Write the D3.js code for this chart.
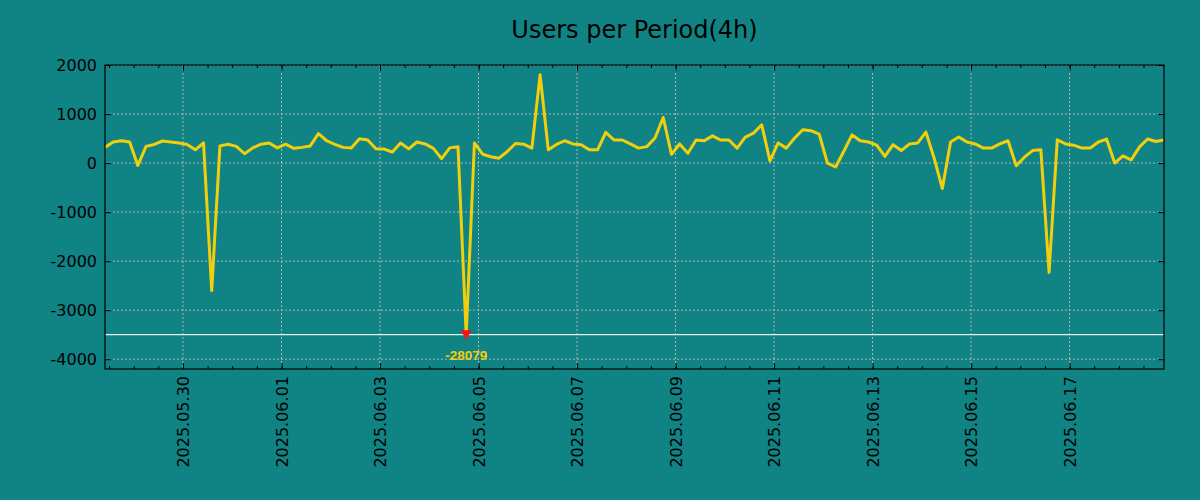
<!DOCTYPE html>
<html>
<head>
<meta charset="utf-8">
<script src="https://cdn.jsdelivr.net/npm/d3@7"></script>
<style>
body { margin: 0; background: #108384; }
</style>
</head>
<body>
<script>
// data: one value every 4 hours
const startTime = "2025.05.28 10:00"
const stepHours = 4
const values = [
  320, 430, 455, 430, -50, 340, 380, 450, 430, 410,
  380, 270, 410, -2600, 350, 385, 340, 190, 310, 385,
  410, 310, 385, 300, 320, 350, 600, 455, 380, 320,
  305, 495, 470, 290, 285, 225, 410, 290, 430, 390,
  300, 90, 310, 335, -28079, 410, 180, 130, 100, 235,
  400, 385, 305, 1800, 270, 380, 455, 390, 375, 270,
  270, 625, 470, 470, 390, 305, 335, 510, 930, 180,
  390, 200, 470, 455, 555, 470, 470, 305, 530, 610,
  780, 45, 410, 305, 510, 680, 660, 590, 0, -80,
  240, 575, 455, 430, 365, 135, 375, 255, 390, 410,
  630, 100, -520, 430, 530, 430, 390, 305, 305, 390,
  455, -55, 120, 255, 270, -2230, 475, 390, 365, 305,
  305, 430, 490, 0, 145, 65, 325, 490, 440, 470
]
const yTicks = [-4000, -3000, -2000, -1000, 0, 1000, 2000]
const xTickLabels = ["2025.05.30", "2025.06.01", "2025.06.03", "2025.06.05", "2025.06.07",
  "2025.06.09", "2025.06.11", "2025.06.13", "2025.06.15", "2025.06.17"]
const yDomain = [-4200, 2000]
const clipValue = -3500   // values below are cut and flagged
const titleText = "Users per Period(4h)"

const w = 1200
const h = 500
const margin = { top: 65, right: 36, bottom: 131, left: 105 }
const iw = w - margin.left - margin.right
const ih = h - margin.top - margin.bottom

const bg = "#108384"
const lineColor = "#f2cf0c"

const parseStart = d3.timeParse("%Y.%m.%d %H:%M")
const parseDay = d3.timeParse("%Y.%m.%d")
const t0 = parseStart(startTime)
const data = values.map((v, i) => ({ date: d3.timeHour.offset(t0, i * stepHours), value: v }))
const majorDates = xTickLabels.map(parseDay)

const x = d3.scaleTime()
  .domain(d3.extent(data, d => d.date))
  .range([0, iw])
const y = d3.scaleLinear()
  .domain(yDomain)
  .range([ih, 0])

const minorDates = d3.timeHour.every(12).range(x.domain()[0], x.domain()[1])

const svg = d3.select("body")
  .append("svg")
  .attr("width", w)
  .attr("height", h)
  .style("font-family", "DejaVu Sans, sans-serif")

svg.append("rect")
  .attr("width", w)
  .attr("height", h)
  .attr("fill", bg)

// title
svg.append("text")
  .attr("x", margin.left + iw / 2)
  .attr("y", 38)
  .attr("text-anchor", "middle")
  .style("font-size", "24px")
  .style("fill", "#000")
  .text(titleText)

const g = svg.append("g")
  .attr("transform", `translate(${margin.left},${margin.top})`)

g.append("clipPath").attr("id", "plot")
  .append("rect").attr("width", iw).attr("height", ih)

// dotted grid
g.selectAll(".gx")
  .data(majorDates)
  .enter()
  .append("line")
  .attr("x1", d => x(d)).attr("x2", d => x(d))
  .attr("y1", 0).attr("y2", ih)
  .attr("stroke", "#b4b4b4")
  .attr("stroke-width", 1)
  .attr("stroke-dasharray", "2,2")
g.selectAll(".gy")
  .data(yTicks)
  .enter()
  .append("line")
  .attr("x1", 0).attr("x2", iw)
  .attr("y1", d => y(d)).attr("y2", d => y(d))
  .attr("stroke", "#b4b4b4")
  .attr("stroke-width", 1)
  .attr("stroke-dasharray", "2,2")

// threshold line
g.append("line")
  .attr("x1", 0).attr("x2", iw)
  .attr("y1", y(clipValue)).attr("y2", y(clipValue))
  .attr("stroke", "#e2f4f2")
  .attr("stroke-width", 1.2)

// the series, clipped at clipValue
const line = d3.line()
  .x(d => x(d.date))
  .y(d => y(Math.max(d.value, clipValue)))

g.append("path")
  .datum(data)
  .attr("clip-path", "url(#plot)")
  .attr("d", line)
  .attr("fill", "none")
  .attr("stroke", lineColor)
  .attr("stroke-width", 3)
  .attr("stroke-linejoin", "round")

const cut = data.filter(d => d.value < clipValue)

g.selectAll(".mark")
  .data(cut)
  .enter()
  .append("path")
  .attr("transform", d => `translate(${x(d.date)},${y(clipValue)})`)
  .attr("d", "M-5.5,-4.5L5.5,-4.5L0,5Z")
  .attr("fill", "#ff1010")

g.selectAll(".cutlabel")
  .data(cut)
  .enter()
  .append("text")
  .attr("x", d => x(d.date))
  .attr("y", y(clipValue) + 25)
  .attr("text-anchor", "middle")
  .style("font-family", "Liberation Sans, sans-serif")
  .style("font-weight", "bold")
  .style("font-size", "13.5px")
  .style("fill", lineColor)
  .text(d => d.value)

// axes, ticks pointing inward
const styleAxis = sel => {
  sel.select(".domain").remove()
  sel.selectAll("line").attr("stroke", "#000")
  sel.selectAll("text").style("font-size", "16px").style("fill", "#000").style("font-family", "DejaVu Sans, sans-serif")
}

g.append("g")
  .call(d3.axisLeft(y).tickValues(yTicks).tickSize(-6).tickPadding(8).tickFormat(d => String(d)))
  .call(styleAxis)
g.append("g")
  .attr("transform", `translate(${iw},0)`)
  .call(d3.axisRight(y).tickValues(yTicks).tickSize(-6).tickFormat(""))
  .call(styleAxis)

g.append("g")
  .attr("transform", `translate(0,${ih})`)
  .call(d3.axisBottom(x).tickValues(minorDates).tickSize(-3).tickFormat(""))
  .call(styleAxis)
g.append("g")
  .call(d3.axisTop(x).tickValues(minorDates).tickSize(-3).tickFormat(""))
  .call(styleAxis)
g.append("g")
  .call(d3.axisTop(x).tickValues(majorDates).tickSize(-6).tickFormat(""))
  .call(styleAxis)

const bottom = g.append("g")
  .attr("transform", `translate(0,${ih})`)
  .call(d3.axisBottom(x).tickValues(majorDates).tickSize(-6).tickFormat(d3.timeFormat("%Y.%m.%d")))
  .call(styleAxis)
bottom.selectAll("text")
  .attr("transform", "rotate(-90)")
  .attr("x", -7)
  .attr("y", 0)
  .attr("dy", "0.35em")
  .style("text-anchor", "end")

// frame
g.append("rect")
  .attr("width", iw)
  .attr("height", ih)
  .attr("fill", "none")
  .attr("stroke", "#000")
  .attr("stroke-width", 1.2)
</script>
</body>
</html>
